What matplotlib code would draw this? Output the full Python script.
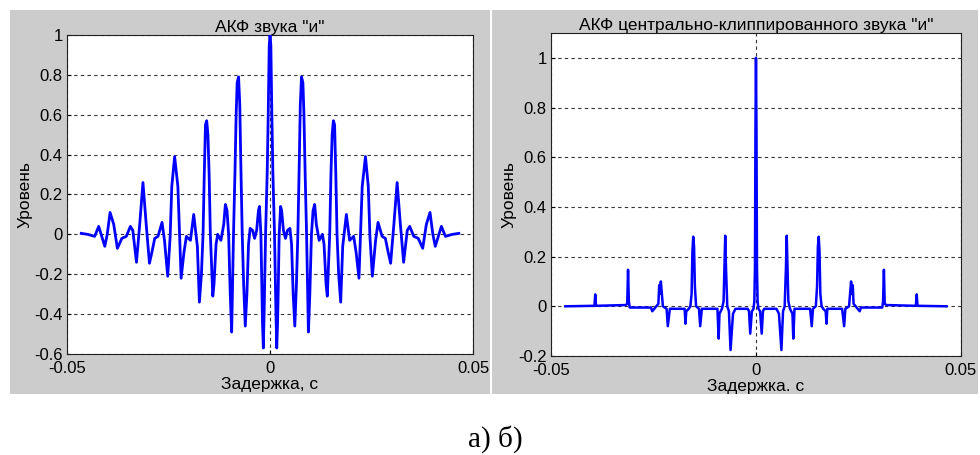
import numpy as np
import matplotlib.pyplot as plt
from matplotlib.patches import Rectangle

plt.rcParams['font.family'] = ['Liberation Sans', 'DejaVu Sans']

# ACF of vowel "и" (right half, lag in ms) - the ACF is symmetric
lag_a = [0.0, 0.2, 0.45, 0.7, 1.1, 1.45, 1.65, 1.85, 2.0, 2.25, 2.6, 2.85, 3.3,
         3.8, 4.3, 4.9, 5.3, 5.7, 6.1, 6.5, 6.85, 7.2, 7.45, 7.75, 8.1, 8.35,
         8.65, 9.0, 9.45, 9.8, 10.2, 10.6, 11.0, 11.4, 12.1, 12.9, 13.3, 13.8,
         14.1, 14.4, 14.7, 15.0, 15.3, 15.6, 15.9, 16.2, 16.5, 16.9, 17.4, 17.9,
         18.8, 19.6, 20.6, 21.2, 21.9, 22.7, 23.5, 24.2, 24.6, 25.2, 26.0, 26.6,
         27.6, 28.4, 29.1, 29.7, 30.5, 31.3, 32.1, 32.9, 33.8, 34.4, 35.4, 36.5,
         37.6, 38.5, 39.4, 40.1, 40.7, 42.2, 43.2, 44.9, 46.5]
acf_a = [1.0, 0.95, 0.6, 0.31, 0.0, -0.39, -0.57, -0.45, -0.3, 0.0, 0.14, 0.12,
         0.02, -0.02, 0.02, 0.03, -0.05, -0.3, -0.46, -0.25, 0.0, 0.36, 0.65,
         0.79, 0.76, 0.6, 0.3, 0.0, -0.49, -0.3, 0.0, 0.12, 0.15, 0.05, -0.03,
         0.0, -0.05, -0.25, -0.31, -0.15, 0.0, 0.3, 0.5, 0.57, 0.55, 0.3, 0.0,
         -0.2, -0.34, -0.06, 0.10, -0.03, -0.01, -0.09, -0.22, 0.24, 0.39, 0.24,
         -0.01, -0.21, -0.03, 0.06, -0.01, -0.02, -0.09, -0.145, 0.05, 0.26,
         0.05, -0.14, 0.02, 0.04, -0.01, -0.02, -0.07, 0.05, 0.11, 0.0, -0.06,
         0.04, -0.01, 0.0, 0.005]

# ACF of centre-clipped vowel "и" (right half, lag in ms)
lag_b = [0.0, 0.12, 0.25, 0.4, 0.6, 1.0, 1.4, 1.7, 2.0, 5.0, 5.6, 6.2, 6.6, 7.0,
         7.3, 7.5, 7.7, 7.9, 8.3, 8.9, 9.1, 9.4, 13.2, 13.6, 13.9, 14.6, 14.9,
         15.1, 15.3, 15.5, 15.7, 16.0, 16.4, 17.0, 17.2, 17.4, 21.0, 21.5, 21.8,
         22.7, 23.0, 23.2, 23.4, 23.6, 23.8, 25.3, 25.6, 30.8, 31.0, 31.2, 31.4,
         31.8, 39.0, 39.2, 39.4, 46.5]
acf_b = [1.0, 0.72, 0.15, 0.02, -0.01, -0.02, -0.11, -0.02, -0.01, -0.01, -0.03,
         -0.176, -0.02, 0.0, 0.15, 0.284, 0.15, 0.02, -0.01, -0.03, -0.13, -0.01,
         -0.01, -0.08, -0.01, 0.0, 0.08, 0.24, 0.28, 0.22, 0.05, 0.0, -0.01,
         -0.02, -0.07, -0.01, -0.01, -0.08, -0.01, 0.0, 0.06, 0.10, 0.05, 0.085,
         0.01, -0.02, -0.005, -0.005, 0.02, 0.147, 0.01, 0.005, 0.002, 0.048,
         0.002, 0.0]


def full(lag, val):
    lag = np.array(lag) / 1000.0
    val = np.array(val)
    return (np.concatenate([-lag[:0:-1], lag]),
            np.concatenate([val[:0:-1], val]))


fig = plt.figure(figsize=(9.8, 4.55), dpi=100)
fig.patch.set_facecolor('white')
for x0, w in [(0.0102, 0.4898), (0.502, 0.496)]:
    fig.add_artist(Rectangle((x0, 0.1341), w, 0.845, transform=fig.transFigure,
                             facecolor='#cccccc', edgecolor='none', zorder=-5))

panels = [
    dict(rect=[0.0684, 0.2220, 0.4143, 0.7011], data=full(lag_a, acf_a), lw=2.0,
         ylim=(-0.6, 1.0), yticks=np.arange(-0.6, 1.01, 0.2),
         title='АКФ звука "и"', xlabel='Задержка, с'),
    dict(rect=[0.5622, 0.2176, 0.4184, 0.7099], data=full(lag_b, acf_b), lw=1.8,
         ylim=(-0.2, 1.1), yticks=np.arange(-0.2, 1.01, 0.2),
         title='АКФ центрально-клиппированного звука "и"', xlabel='Задержка. с'),
]

for p in panels:
    ax = fig.add_axes(p['rect'])
    t, v = p['data']
    ax.plot(t, v, color='#0000ff', lw=p['lw'], zorder=3)
    ax.set_xlim(-0.05, 0.05)
    ax.set_ylim(*p['ylim'])
    ax.set_xticks([-0.05, 0, 0.05])
    ax.set_xticklabels(['-0.05', '0', '0.05'])
    ax.set_yticks(p['yticks'])
    labels = []
    for y in p['yticks']:
        s = f'{y:.1f}'
        if s in ('0.0', '-0.0'):
            s = '0'
        elif s == '1.0':
            s = '1'
        labels.append(s)
    ax.set_yticklabels(labels)
    ax.grid(True, color='#333333', linestyle=(0, (3, 3)), linewidth=0.8)
    ax.tick_params(direction='in', length=3, labelsize=12)
    ax.tick_params(axis='y', pad=3)
    ax.tick_params(axis='x', pad=5)
    for s in ax.spines.values():
        s.set_color('#202020')
        s.set_linewidth(0.8)
    ax.set_title(p['title'], fontsize=12.5, pad=2)
    ax.set_xlabel(p['xlabel'], fontsize=12.5, labelpad=0.5)
    ax.set_ylabel('Уровень', fontsize=12.5, labelpad=1)

fig.text(0.505, 0.005, 'а) б)', family='Liberation Serif', fontsize=21,
         ha='center', va='bottom')

fig.savefig('out.png', dpi=100)
